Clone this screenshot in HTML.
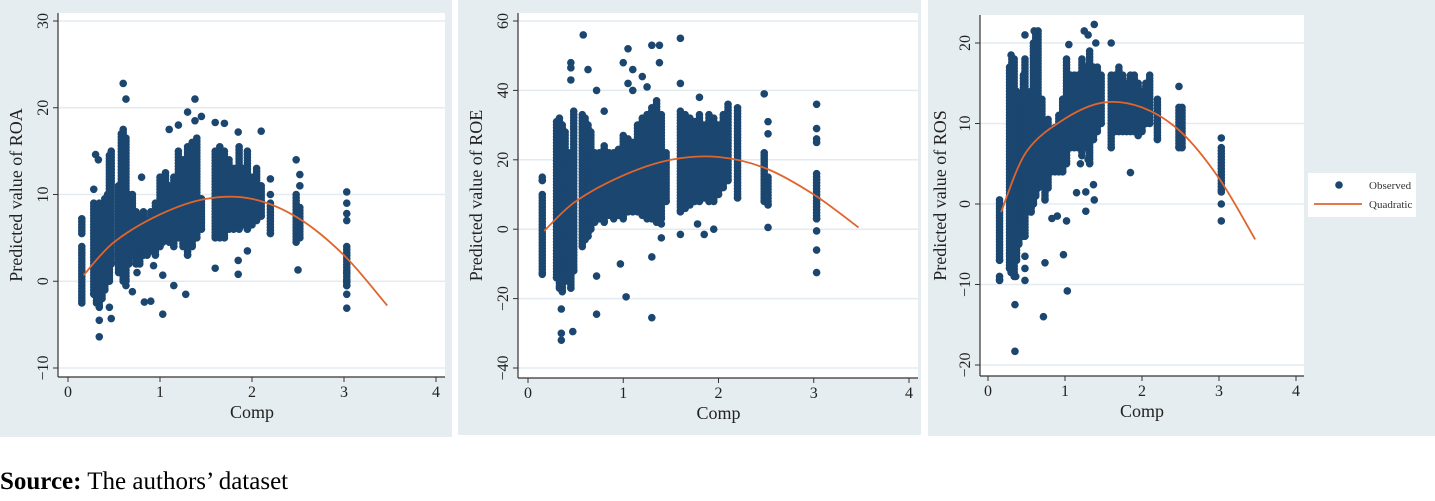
<!DOCTYPE html>
<html><head><meta charset="utf-8"><style>
html,body{margin:0;padding:0;background:#fff;}
svg{display:block;font-family:"Liberation Serif",serif;}
</style></head><body>
<svg id="fig" width="1435" height="501" viewBox="0 0 1435 501"></svg>
<script>
// ---- Data ----
const roaBands=[[0.15,-2.5,4],[0.15,5.5,7.2],[0.28,-1.5,9],[0.31,-2.5,8.5],[0.34,-3,9],[0.37,-2,8],[0.40,-1,9.5],[0.43,0,10],[0.45,0,14.5],[0.47,2,15],[0.55,1,11],[0.58,2,17],[0.6,0,17.5],[0.63,0,16.5],[0.66,2,10],[0.7,3,10],[0.74,2,8],[0.78,2,7.5],[0.82,3,8],[0.86,3,7],[0.9,3.5,8],[0.95,3,9],[1.0,4,12],[1.03,4.5,12],[1.06,5,12.5],[1.1,4.5,11],[1.15,4,12],[1.2,5,15],[1.25,4,14],[1.3,3,15.5],[1.35,4,16],[1.4,5,16.5],[1.45,6,9.5],[1.6,5,15],[1.65,5,15.5],[1.7,5,15],[1.75,6,14],[1.8,6,13],[1.86,6,15.5],[1.9,6.5,13],[1.95,6,15],[2.0,6.5,12],[2.05,7,13],[2.1,7.5,11],[2.2,5.5,9],[2.48,4.5,10],[2.52,5,8.5],[3.03,-0.5,4]];
const roaPoints=[[0.6,22.8],[0.63,21],[0.34,-6.4],[0.34,-4.5],[0.47,-4.3],[0.45,-3],[0.3,14.6],[0.33,14],[0.28,10.6],[0.7,-1.2],[0.63,-0.5],[0.75,1],[0.8,12],[0.83,-2.4],[0.9,-2.3],[1.03,-3.8],[0.93,1.8],[1.03,0.7],[1.15,-0.5],[1.28,-1.5],[1.3,19.5],[1.38,21],[1.38,18.5],[1.45,19],[1.1,17.5],[1.2,18],[1.6,18.3],[1.7,18.2],[1.85,17.2],[2.1,17.3],[1.95,3.5],[1.85,2.4],[1.85,0.8],[1.6,1.5],[2.48,14],[2.52,12.3],[2.52,11],[2.5,1.3],[2.2,11.8],[2.2,10],[3.03,10.3],[3.03,9],[3.03,7.8],[3.03,7],[3.03,-1.5],[3.03,-3.1],[3.03,0],[3.03,1]];
const roeBands=[[0.15,-13,10],[0.15,14,15],[0.3,-14,31],[0.33,-17,32],[0.36,-18,30],[0.39,-15,28],[0.42,-13,22],[0.45,-17,22],[0.48,-12,34],[0.57,-5,33],[0.6,-3,32],[0.63,-2,30],[0.66,0,28],[0.7,2,22],[0.75,3,22],[0.8,2,24],[0.85,4,22],[0.9,3,22],[0.95,4,23],[1.0,3,27],[1.05,5,26],[1.1,5,25],[1.15,5,30],[1.2,4,32],[1.25,3,33],[1.3,3,35],[1.35,2,37],[1.4,3,33],[1.45,8,22],[1.6,5,34],[1.65,6,33],[1.7,7,32],[1.75,8,31],[1.8,8,33],[1.85,9,30],[1.9,8,33],[1.95,8,32],[2.0,10,30],[2.05,12,33],[2.1,14,36],[2.2,9,35],[2.48,8,22],[2.52,7,15],[3.03,3,16]];
const roePoints=[[0.58,56],[0.45,48],[0.45,46.5],[0.45,43],[0.63,46],[0.72,40],[0.8,34],[0.35,-23],[0.35,-30],[0.35,-32],[0.47,-29.5],[0.72,-24.5],[0.72,-13.5],[0.97,-10],[1.03,-19.5],[1.3,-25.5],[1.3,-8],[1.4,-2.5],[1.4,1.5],[1.0,48],[1.05,52],[1.1,46],[1.05,42],[1.1,40],[1.2,44],[1.25,41],[1.3,53],[1.38,53],[1.38,48],[1.6,55],[1.6,42],[1.6,-1.5],[1.78,1.5],[1.85,-1.5],[1.95,0],[1.8,38],[2.48,39],[2.52,31],[2.52,27.5],[2.52,0.5],[3.03,36],[3.03,29],[3.03,26],[3.03,25],[3.03,-0.5],[3.03,-6],[3.03,-12.5]];
const rosBands=[[0.15,-7,0.5],[0.15,-9.5,-9],[0.28,-8,17],[0.31,-8,18],[0.34,-9,18],[0.37,-7,14],[0.4,-5,12],[0.43,-3,13],[0.46,-4,16],[0.48,-4,18],[0.56,-1,14],[0.59,0,20],[0.62,1,21],[0.65,2,21.5],[0.7,3,13],[0.74,0.5,10],[0.78,2,10.5],[0.82,4,9],[0.87,4,9.5],[0.92,4,11],[0.97,4,13],[1.02,5,18],[1.07,7,16],[1.12,7,16],[1.17,7,16],[1.22,6,18],[1.27,7,17],[1.32,5,19],[1.37,8,17],[1.42,9,17],[1.47,10,16],[1.6,7,16],[1.65,9,16],[1.7,9,17],[1.75,9,16],[1.8,9,15],[1.85,9,16],[1.9,9,16],[1.95,8.5,15],[2.0,9,14],[2.05,10,15],[2.1,10,16],[2.2,8,13],[2.48,7,12],[2.52,7,12],[3.03,1.5,7]];
const rosPoints=[[0.48,21],[0.35,-12.5],[0.35,-18.3],[0.36,-9],[0.3,-8.5],[0.48,-8],[0.48,-9.5],[0.48,-6.5],[0.74,-7.3],[0.72,-14],[0.83,-1.8],[0.9,-1.5],[0.98,-6.3],[1.02,-2.1],[1.03,-10.8],[1.15,1.4],[1.27,1.5],[1.27,-0.9],[1.37,2.4],[1.38,0.5],[1.2,5],[1.3,5.5],[1.05,19.8],[1.25,21.5],[1.3,21],[1.38,22.3],[1.4,20],[1.6,20],[1.85,3.9],[2.48,14.6],[3.03,8.2],[3.03,0],[3.03,-2.1],[0.3,18.5],[0.6,21.5]];
const fitX=[0.17,0.5,1,1.5,2,2.5,3,3.47];
const roaFit=[0.7,4.5,7.7,9.5,9.5,7.3,3,-2.8];
const roeFit=[-0.5,8,15.5,20,20.8,17.5,10,0.5];
const rosFit=[-1,6.5,10.6,12.6,12,9,3.2,-4.4];
const xTicks=[0,1,2,3,4];
const roaTicks=[-10,0,10,20,30];
const roeTicks=[-40,-20,0,20,40,60];
const rosTicks=[-20,-10,0,10,20];

const NS="http://www.w3.org/2000/svg";
const svg=document.getElementById('fig');
function mk(tag,attrs,parent){const e=document.createElementNS(NS,tag);for(const k in attrs)e.setAttribute(k,attrs[k]);(parent||svg).appendChild(e);return e;}

const panels=[
 {id:'roa',bg:[0,0,452,437],plot:[58,13,445,377],x0:68,x4:436,yv:[-10,30],yp:[368,21],ticks:roaTicks,title:'Predicted value of ROA',tx:22,bands:roaBands,pts:roaPoints,fit:roaFit},
 {id:'roe',bg:[458,0,921,435],plot:[518,13,918,378],x0:528,x4:909,yv:[-40,60],yp:[368,21],ticks:roeTicks,title:'Predicted value of ROE',tx:482,bands:roeBands,pts:roePoints,fit:roeFit},
 {id:'ros',bg:[928,0,1435,436],plot:[980,15,1304,376],x0:988,x4:1296,yv:[-20,20],yp:[365,43],ticks:rosTicks,title:'Predicted value of ROS',tx:946,bands:rosBands,pts:rosPoints,fit:rosFit}
];
panels.forEach(p=>{
 const g=mk('g',{});
 
 
 const xs=v=>p.x0+(p.x4-p.x0)*v/4;
 const ys=v=>p.yp[0]+(p.yp[1]-p.yp[0])*(v-p.yv[0])/(p.yv[1]-p.yv[0]);
 const bg=mk('rect',{x:p.bg[0],y:p.bg[1],width:p.bg[2]-p.bg[0],height:p.bg[3]-p.bg[1],fill:'#e6edf1'},g);
 
 
 mk('rect',{x:p.plot[0],y:p.plot[1],width:p.plot[2]-p.plot[0],height:p.plot[3]-p.plot[1],fill:'#fff'},g);
 p.ticks.forEach(t=>{
  const y=ys(t);
  const gl=mk('line',{x1:p.plot[0],x2:p.plot[2],y1:y,y2:y,stroke:'#e4ebf0','stroke-width':1.5},g);
  
  
  mk('line',{x1:p.plot[0]-5,x2:p.plot[0],y1:y,y2:y,stroke:'#333','stroke-width':1},g);
  const tl=mk('text',{x:p.plot[0]-10,y:y,'font-size':16,fill:'#222','text-anchor':'middle',transform:`rotate(-90 ${p.plot[0]-10} ${y})`},g);
  tl.textContent=t<0?'\u2212'+(-t):String(t);
  
  
 });
 xTicks.forEach(t=>{
  const x=xs(t);
  mk('line',{x1:x,x2:x,y1:p.plot[3],y2:p.plot[3]+5,stroke:'#333','stroke-width':1},g);
  const tl=mk('text',{x:x,y:p.plot[3]+20,'font-size':16,fill:'#222','text-anchor':'middle'},g);
  tl.textContent=String(t);
  
  
 });
 mk('line',{x1:p.plot[0],x2:p.plot[0],y1:p.plot[1],y2:p.plot[3],stroke:'#333','stroke-width':1.2},g);
 mk('line',{x1:p.plot[0],x2:p.plot[2],y1:p.plot[3],y2:p.plot[3],stroke:'#333','stroke-width':1.2},g);
 const xt=mk('text',{x:(p.x0+p.x4)/2,y:p.plot[3]+41,'font-size':18,fill:'#222','text-anchor':'middle'},g);
 xt.textContent='Comp';
 
 
 const cy=(p.plot[1]+p.plot[3])/2;
 const yt=mk('text',{x:p.tx,y:cy,'font-size':18,fill:'#222','text-anchor':'middle',transform:`rotate(-90 ${p.tx} ${cy})`},g);
 yt.textContent=p.title;
 
 
 const dg=mk('g',{fill:'#1b4670'},g);
 
 
 p.bands.forEach(b=>{
  const x=xs(b[0]),y1=ys(b[2]),y2=ys(b[1]);
  for(let y=y1;y<=y2+0.01;y+=3){mk('circle',{cx:x,cy:y,r:3.8},dg);}
  mk('circle',{cx:x,cy:y2,r:3.8},dg);
 });
 p.pts.forEach(pt=>{
  const c=mk('circle',{cx:xs(pt[0]),cy:ys(pt[1]),r:3.8},dg);
  
  
 });
 const P=fitX.map((v,i)=>[xs(v),ys(p.fit[i])]);
 let d='M'+P[0][0]+','+P[0][1];
 for(let i=0;i<P.length-1;i++){
  const p0=P[Math.max(0,i-1)],p1=P[i],p2=P[i+1],p3=P[Math.min(P.length-1,i+2)];
  d+=` C${p1[0]+(p2[0]-p0[0])/6},${p1[1]+(p2[1]-p0[1])/6} ${p2[0]-(p3[0]-p1[0])/6},${p2[1]-(p3[1]-p1[1])/6} ${p2[0]},${p2[1]}`;
 }
 const fl=mk('path',{d:d,fill:'none',stroke:'#e0652c','stroke-width':1.8},g);
 
 
});
const lg=mk('g',{});


mk('rect',{x:1308,y:173,width:108,height:44,fill:'#fff'},lg);
mk('circle',{cx:1339,cy:185,r:3.8,fill:'#1b4670'},lg);
mk('line',{x1:1314,x2:1362,y1:204,y2:204,stroke:'#e0652c','stroke-width':1.8},lg);
const l1=mk('text',{x:1369,y:189,'font-size':11,fill:'#333'},lg);l1.textContent='Observed';


const l2=mk('text',{x:1369,y:208,'font-size':11,fill:'#333'},lg);l2.textContent='Quadratic';


const src=mk('text',{x:0,y:489,'font-size':25,fill:'#000'});


const b=mk('tspan',{'font-weight':'bold'},src);b.textContent='Source:';
const r=mk('tspan',{},src);r.textContent=' The authors\u2019 dataset';
</script>
</body></html>
